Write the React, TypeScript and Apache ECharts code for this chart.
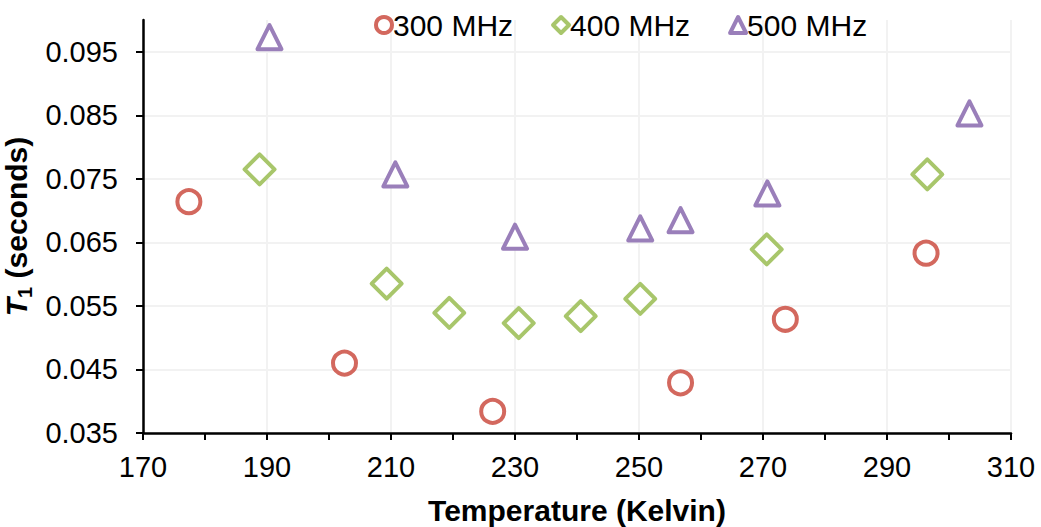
import React, { useEffect, useRef } from "react";
import * as echarts from "echarts";

const seriesNames = ["300 MHz", "400 MHz", "500 MHz"];
const temps300 = [177.4, 202.5, 226.4, 256.7, 273.6, 296.3];
const t1_300 = [0.0714, 0.046, 0.0384, 0.0429, 0.0529, 0.0633];
const temps400 = [188.8, 209.3, 219.4, 230.6, 240.6, 250.2, 270.6, 296.5];
const t1_400 = [0.0765, 0.0585, 0.0539, 0.0523, 0.0534, 0.0561, 0.0639, 0.0757];
const temps500 = [190.4, 210.7, 230.0, 250.2, 256.7, 270.7, 303.3];
const t1_500 = [0.0973, 0.0757, 0.0659, 0.0672, 0.0685, 0.0727, 0.0853];
const yTicks = [0.035, 0.045, 0.055, 0.065, 0.075, 0.085, 0.095];

const colors = ["#d3685e", "#a8c66b", "#9a7fba"];
const symbols = ["circle", "diamond", "triangle"];
const sizes = [23, 30, 24];

const FONT = "'Liberation Sans', Arial, Helvetica, sans-serif";

function pairs(xs: number[], ys: number[]) {
  return xs.map((x, i) => [x, ys[i]]);
}

export default function App() {
  const ref = useRef<HTMLDivElement>(null);
  useEffect(() => {
    if (!ref.current) return;
    const chart = echarts.init(ref.current, undefined, { renderer: "svg" });
    const datasets = [pairs(temps300, t1_300), pairs(temps400, t1_400), pairs(temps500, t1_500)];
    chart.setOption({
      animation: false,
      backgroundColor: "#ffffff",
      textStyle: { fontFamily: FONT },
      legend: {
        left: 369,
        top: 5,
        itemWidth: 16,
        itemHeight: 16,
        itemGap: 38,
        textStyle: { fontSize: 30, color: "#000", fontFamily: FONT, padding: [0, 0, 0, -4] },
        itemStyle: { borderWidth: 4 },
        data: seriesNames,
      },
      grid: { left: 143, right: 30, top: 20, bottom: 94, containLabel: false, outerBoundsMode: "none" },
      xAxis: {
        type: "value",
        min: 170,
        max: 310,
        interval: 20,
        name: "Temperature (Kelvin)",
        nameLocation: "middle",
        nameGap: 62,
        nameTextStyle: { fontSize: 30, fontWeight: "bold", color: "#000", fontFamily: FONT },
        axisLine: { show: true, lineStyle: { color: "#000", width: 2.5 } },
        axisTick: { show: true, length: 7, lineStyle: { color: "#000", width: 2 } },
        minorTick: { show: true, splitNumber: 2, length: 7, lineStyle: { color: "#000", width: 2 } },
        axisLabel: { fontSize: 29, color: "#000", margin: 19, fontFamily: FONT },
        splitLine: { show: true, lineStyle: { color: "#f2f2f2", width: 2 } },
      },
      yAxis: {
        type: "value",
        min: 0.035,
        max: 0.1,
        interval: 0.01,
        name: "{i|T}{s|1}{b| (seconds)}",
        nameLocation: "middle",
        nameRotate: 90,
        nameGap: 96,
        nameTextStyle: {
          fontSize: 30,
          fontWeight: "bold",
          color: "#000",
          fontFamily: FONT,
          rich: {
            i: { fontSize: 30, fontWeight: "bold", fontStyle: "italic", color: "#000", fontFamily: FONT, lineHeight: 36 },
            s: { fontSize: 20, fontWeight: "bold", color: "#000", fontFamily: FONT, verticalAlign: "bottom", lineHeight: 36 },
            b: { fontSize: 30, fontWeight: "bold", color: "#000", fontFamily: FONT, lineHeight: 36 },
          },
        },
        axisLine: { show: true, lineStyle: { color: "#000", width: 2.5 } },
        axisTick: { show: true, length: 7, customValues: yTicks, lineStyle: { color: "#000", width: 2 } },
        axisLabel: {
          fontSize: 29,
          color: "#000",
          margin: 25,
          fontFamily: FONT,
          customValues: yTicks,
          formatter: (v: number) => v.toFixed(3),
        },
        splitLine: { show: true, lineStyle: { color: "#f2f2f2", width: 2 } },
      },
      series: seriesNames.map((name, i) => ({
        name,
        type: "scatter",
        data: datasets[i],
        symbol: symbols[i],
        symbolSize: sizes[i],
        itemStyle: {
          color: "#ffffff",
          borderColor: colors[i],
          borderWidth: 4,
          borderJoin: "round",
          opacity: 1,
        },
      })),
    });
    return () => chart.dispose();
  }, []);
  return (
    <div
      ref={ref}
      style={{ position: "fixed", left: 0, top: 0, width: 1041, height: 527 }}
    />
  );
}
